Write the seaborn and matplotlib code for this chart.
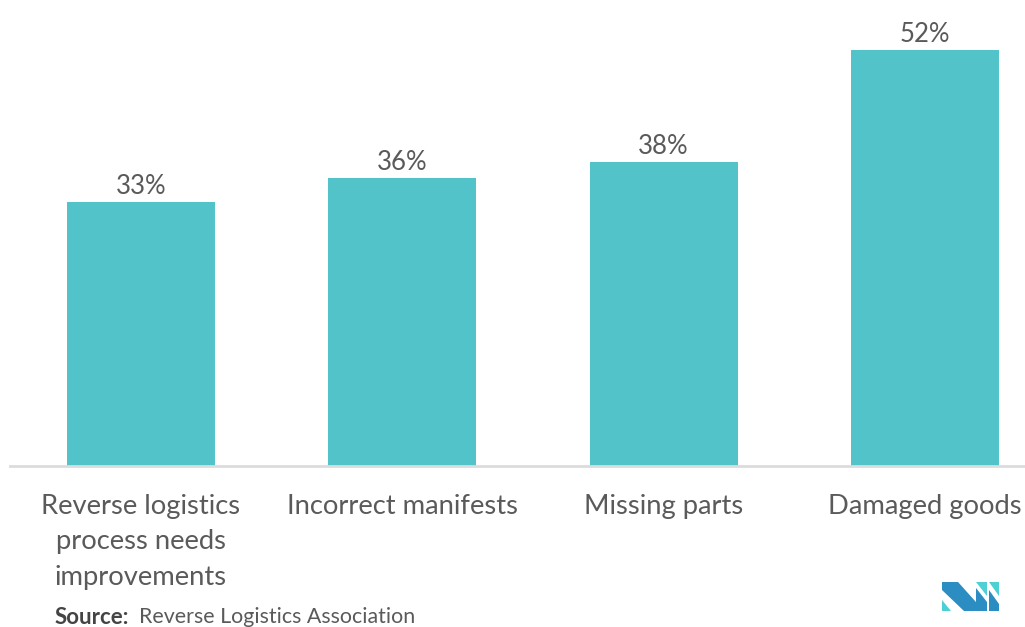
import matplotlib
matplotlib.use("Agg")
import matplotlib.pyplot as plt
from matplotlib.patches import Polygon
import seaborn as sns
import pandas as pd

categories = ["Reverse logistics\nprocess needs\nimprovements", "Incorrect manifests",
              "Missing parts", "Damaged goods"]
values = [33, 36, 38, 52]
value_labels = ["33%", "36%", "38%", "52%"]

BAR_COLOR = "#52C3C9"
TEXT_COLOR = "#5a5a5a"

sns.set_theme(style="white")
plt.rcParams["font.family"] = ["Lato", "DejaVu Sans"]

W, H = 1025, 627
fig = plt.figure(figsize=(W / 100, H / 100), dpi=100)
ax = fig.add_axes([10 / W, (H - 466) / H, (1025 - 10) / W, 466 / H])

df = pd.DataFrame({"category": categories, "value": values})
sns.barplot(data=df, x="category", y="value", color=BAR_COLOR, width=0.566,
            saturation=1, ax=ax, edgecolor="none")

ax.set_xlim(-0.501, 3.383)
ax.set_ylim(0, 58.25)

for i, (v, lab) in enumerate(zip(values, value_labels)):
    ax.text(i, v + 0.4, lab, ha="center", va="bottom", fontsize=18.5,
            color=TEXT_COLOR)

for s in ["top", "right", "left"]:
    ax.spines[s].set_visible(False)
ax.spines["bottom"].set_color("#dcdcdc")
ax.spines["bottom"].set_linewidth(2)
ax.set_yticks([])
ax.set_xlabel("")
ax.set_ylabel("")
ax.tick_params(axis="x", length=0, pad=20, labelsize=19.7, labelcolor=TEXT_COLOR)
for t in ax.get_xticklabels():
    t.set_linespacing(1.52)
    t.set_verticalalignment("top")

fig.text(55 / W, 1 - 617 / H, "Source:", fontsize=16, fontweight="bold",
         color="#444444", va="center", ha="left")
fig.text(139 / W, 1 - 617 / H, "Reverse Logistics Association", fontsize=15.4,
         color=TEXT_COLOR, va="center", ha="left")

# small brand mark in the lower right corner
def px(pts):
    return [(x / W, 1 - y / H) for x, y in pts]

dark, light = "#2B8DC1", "#4DCFD3"
shapes = [
    ([(942, 600), (942, 611), (951, 611)], light),
    ([(942, 582), (958, 582), (984, 611), (964, 611), (942, 590)], dark),
    ([(976, 582), (987, 582), (987, 596)], light),
    ([(976, 588), (987, 602), (987, 611), (976, 611)], dark),
    ([(989, 582), (999, 582), (999, 596)], light),
    ([(989, 590), (999, 604), (999, 611), (989, 611)], dark),
]
for pts, c in shapes:
    fig.patches.append(Polygon(px(pts), closed=True, facecolor=c,
                               edgecolor="none", transform=fig.transFigure))

fig.savefig("out.png", dpi=100, facecolor="white")
